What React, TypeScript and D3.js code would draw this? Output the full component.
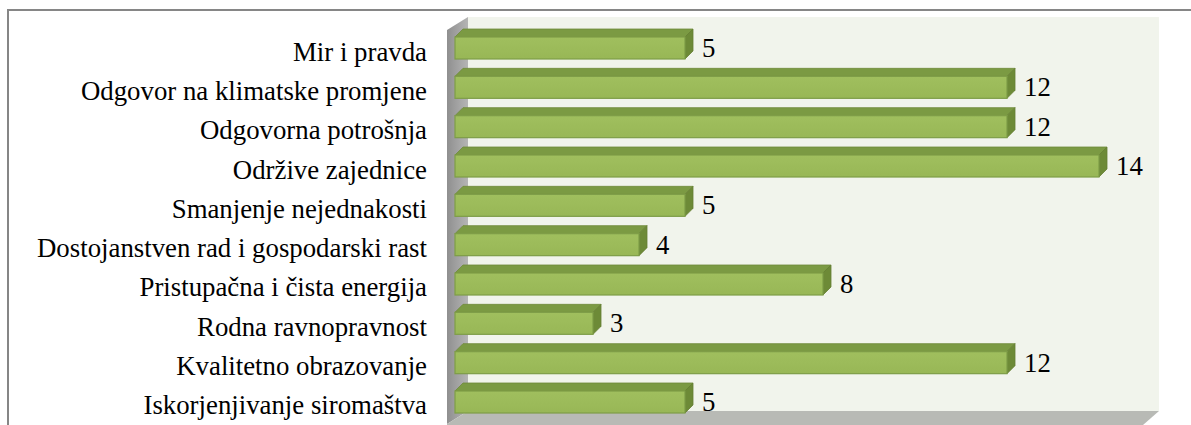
import React from "react";
import * as d3 from "d3";

const categories = [
  "Mir i pravda",
  "Odgovor na klimatske promjene",
  "Odgovorna potrošnja",
  "Održive zajednice",
  "Smanjenje nejednakosti",
  "Dostojanstven rad i gospodarski rast",
  "Pristupačna i čista energija",
  "Rodna ravnopravnost",
  "Kvalitetno obrazovanje",
  "Iskorjenjivanje siromaštva",
];
const values = [5, 12, 12, 14, 5, 4, 8, 3, 12, 5];

const W = 1191;
const H = 425;

export default function App() {
  const x = d3.scaleLinear().domain([0, 15]).range([455, 455 + 15 * 46]);
  const y = d3
    .scaleBand<string>()
    .domain(categories)
    .range([48 - 39.333 / 2, 402 + 39.333 / 2])
    .padding(0);
  const barH = 22;
  const dx = 8;
  const dy = 8;
  const font = "'Liberation Serif', 'Times New Roman', serif";

  return (
    <svg
      width={W}
      height={H}
      style={{ position: "absolute", left: 0, top: 0, background: "#fff" }}
    >
      <defs>
        <linearGradient id="wallL" x1="0" x2="1" y1="0" y2="0">
          <stop offset="0" stopColor="#8f8f8f" />
          <stop offset="1" stopColor="#b5b5b5" />
        </linearGradient>
        <linearGradient id="front" x1="0" x2="0" y1="0" y2="1">
          <stop offset="0" stopColor="#a0bf5e" />
          <stop offset="1" stopColor="#98b756" />
        </linearGradient>
      </defs>
      <rect x={8} y={10} width={1300} height={600} fill="none" stroke="#868686" strokeWidth={2} />
      <rect x={468} y={17} width={1159 - 468} height={411 - 17} fill="#f1f4ec" />
      <polygon points="447,30 468,17 468,411 447,424" fill="url(#wallL)" />
      <polygon points="447,424 468,411 1159,411 1143,425 447,425" fill="#b8bab5" />
      {categories.map((c, i) => {
        const v = values[i];
        const cy = (y(c) as number) + y.bandwidth() / 2;
        const x0 = x(0);
        const x1 = x(v);
        const yT = cy - barH / 2;
        const yB = cy + barH / 2;
        return (
          <g key={c}>
            <polygon
              points={`${x0},${yT} ${x0 + dx},${yT - dy} ${x1 + dx},${yT - dy} ${x1},${yT}`}
              fill="#7b9a43"
              stroke="#6e8a3a"
              strokeWidth={0.8}
            />
            <polygon
              points={`${x1},${yT} ${x1 + dx},${yT - dy} ${x1 + dx},${yB - dy} ${x1},${yB}`}
              fill="#6d8a37"
              stroke="#667f34"
              strokeWidth={0.8}
            />
            <rect
              x={x0}
              y={yT}
              width={x1 - x0}
              height={barH}
              fill="url(#front)"
              stroke="#7e9d47"
              strokeWidth={1.2}
            />
            <text
              x={x1 + dx + 9}
              y={cy + 9}
              style={{ fontFamily: font, fontSize: "26.8px" }}
              fill="#000"
            >
              {v}
            </text>
            <text
              x={427}
              y={cy + 12.5}
              textAnchor="end"
              style={{ fontFamily: font, fontSize: "26.8px" }}
              fill="#000"
            >
              {c}
            </text>
          </g>
        );
      })}
    </svg>
  );
}
